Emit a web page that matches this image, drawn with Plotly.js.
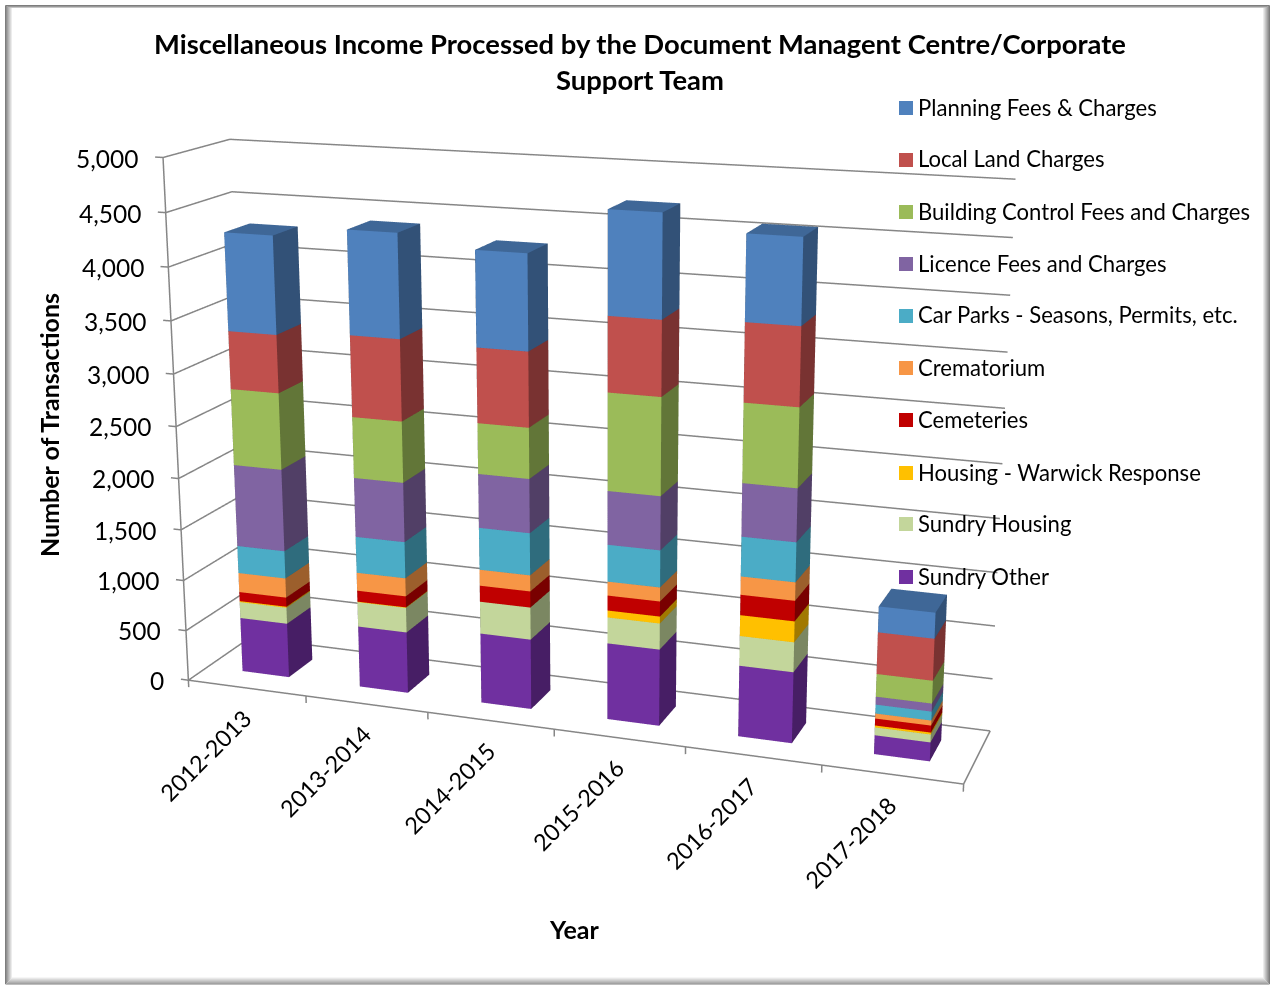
<!DOCTYPE html>
<html>
<head>
<meta charset="utf-8">
<script src="https://cdn.plot.ly/plotly-3.0.1.min.js"></script>
<style>html,body{margin:0;padding:0;background:#fff}#chart{width:1271px;height:985px}</style>
</head>
<body>
<div id="chart"></div>
<script>
// Financial years along the front of the floor
const categories = ['2012-2013','2013-2014','2014-2015','2015-2016','2016-2017','2017-2018'];

// Transactions per year, one array per income stream
const sundryOther    = [540, 600, 678, 732, 671, 177];
const sundryHousing  = [161, 242, 310, 248, 280,  74];
const housingWarwick = [ 10,   5,   0,  66, 195,  18];
const cemeteries     = [ 91, 108, 155, 142, 190,  65];
const crematorium    = [191, 177, 154, 132, 170,  47];
const carParks       = [270, 351, 401, 347, 366,  83];
const licenceFees    = [798, 570, 510, 501, 488,  74];
const buildingControl= [736, 581, 476, 902, 722, 211];
const localLand      = [553, 768, 698, 688, 709, 384];
const planningFees   = [926, 972, 883, 938, 767, 237];

// Stacking order, bottom to top
const seriesNames = ['Sundry Other','Sundry Housing','Housing - Warwick Response','Cemeteries','Crematorium',
  'Car Parks - Seasons, Permits, etc.','Licence Fees and Charges','Building Control Fees and Charges','Local Land Charges','Planning Fees & Charges'];
const seriesValues = [sundryOther,sundryHousing,housingWarwick,cemeteries,crematorium,carParks,licenceFees,buildingControl,localLand,planningFees];
const seriesColors = ['#7030A0','#C3D69B','#FFC000','#C00000','#F79646','#4BACC6','#8064A2','#9BBB59','#C0504D','#4F81BD'];

const valueTicks = [0,500,1000,1500,2000,2500,3000,3500,4000,4500,5000];

const W = 1271, H = 985;
const FONT = 'Lato, Carlito, Calibri, sans-serif';
const GRID = '#868686';
const barHalfWidth = 0.2, barDepthFront = 0.31, barDepthBack = 0.71;

function shade(hex, k){
  const n = parseInt(hex.slice(1),16);
  const c = [n>>16&255,n>>8&255,n&255].map(v=>Math.round(v*k));
  return `rgb(${c[0]},${c[1]},${c[2]})`;
}

// One closed box per year for a series, coloured face by face
function boxMesh(name, values, base, color){
  const xs=[],ys=[],zs=[],is=[],js=[],ks=[],fc=[];
  const front=color, side=shade(color,0.63), top=shade(color,0.8), hidden=shade(color,0.5);
  values.forEach((v,b)=>{
    const x0=b+0.5-barHalfWidth, x1=b+0.5+barHalfWidth, y0=barDepthFront, y1=barDepthBack;
    const z0=base[b], z1=base[b]+v, o=xs.length;
    [[x0,y0,z0],[x1,y0,z0],[x1,y1,z0],[x0,y1,z0],[x0,y0,z1],[x1,y0,z1],[x1,y1,z1],[x0,y1,z1]].forEach(p=>{xs.push(p[0]);ys.push(p[1]);zs.push(p[2]);});
    [[0,1,5,front],[0,5,4,front],[1,2,6,side],[1,6,5,side],[4,5,6,top],[4,6,7,top],
     [2,3,7,hidden],[2,7,6,hidden],[3,0,4,hidden],[3,4,7,hidden],[0,1,2,hidden],[0,2,3,hidden]].forEach(t=>{
      is.push(o+t[0]);js.push(o+t[1]);ks.push(o+t[2]);fc.push(t[3]);
    });
    base[b]=z1;
  });
  return {type:'mesh3d',name,x:xs,y:ys,z:zs,i:is,j:js,k:ks,facecolor:fc,flatshading:true,
    lighting:{ambient:1,diffuse:0,specular:0,fresnel:0,roughness:1},hoverinfo:'skip',showlegend:false};
}

const running = categories.map(()=>0);
const traces = seriesValues.map((vals,s)=>boxMesh(seriesNames[s],vals,running,seriesColors[s]));

// Wall gridlines, axis lines and tick marks
const n = categories.length, gx=[],gy=[],gz=[];
const seg = pts => { pts.forEach(p=>{gx.push(p[0]);gy.push(p[1]);gz.push(p[2]);}); gx.push(null);gy.push(null);gz.push(null); };
valueTicks.forEach(v=>{ seg([[0,0,v],[0,1,v],[n,1,v]]); seg([[0,0,v],[-0.065,0,v]]); });
seg([[0,0,0],[0,0,5000]]);
seg([[0,0,0],[n,0,0],[n,1,0]]);
for(let i=0;i<=n;i++) seg([[i,0,0],[i,0,-70]]);
traces.unshift({type:'scatter3d',mode:'lines',x:gx,y:gy,z:gz,line:{color:GRID,width:3},hoverinfo:'skip',showlegend:false,connectgaps:false});

// Scene box and view
const unit = [2/6, 0.3388, 1.344/5000];
const xr=[-0.3,6.02], yr=[-0.02,1.02], zr=[-120,5030];
const boxC=[(xr[0]+xr[1])/2*unit[0],(yr[0]+yr[1])/2*unit[1],(zr[0]+zr[1])/2*unit[2]];
const rad=Math.PI/180, baseAz=20*rad, az=19.3*rad, el=15*rad;
const look=[-Math.sin(az)*Math.cos(el),Math.cos(az)*Math.cos(el),-Math.sin(el)];
const eyeWorld=[2.925,-4.951,2.162];
const e0=eyeWorld.map((e,i)=>e-boxC[i]);
const turn=baseAz-az;
const eye=[e0[0]*Math.cos(turn)+e0[1]*Math.sin(turn),-e0[0]*Math.sin(turn)+e0[1]*Math.cos(turn),e0[2]];
const center=eye.map((e,i)=>e+5.67*look[i]);

const sceneAnn=[];
valueTicks.forEach(v=>sceneAnn.push({x:-0.065,y:0,z:v,text:v.toLocaleString('en-US'),showarrow:false,xanchor:'right',yanchor:'middle',xshift:-15,yshift:-1,
  font:{family:FONT,size:24.5,color:'#000'}}));
categories.forEach((c,i)=>sceneAnn.push({x:i+0.5,y:0,z:-80,text:c,showarrow:false,textangle:-45,xanchor:'right',yanchor:'top',xshift:13,yshift:-5,
  font:{family:FONT,size:23.3,color:'#000'}}));

const noAxis=r=>({range:r,autorange:false,visible:false,showgrid:false,zeroline:false,showline:false,showticklabels:false,showbackground:false,showspikes:false,ticks:''});

const shapes=[], annotations=[];
const px=x=>x/W, py=y=>1-y/H;

// Chart-area border with its soft inner shadow
for(let i=7;i>=0;i--){
  const g=Math.round(255-(7-i)*(255-125)/7);
  shapes.push({type:'rect',xref:'paper',yref:'paper',layer:'above',x0:px(5.5+i),x1:px(1269.5-i),y0:py(5.5+Math.min(i,3)*0.5),y1:py(984-i),
    line:{color:`rgb(${g},${g},${g})`,width:1},fillcolor:'rgba(0,0,0,0)'});
}

// Legend, top entry is the top of the stack
const legendY=[108,160,212,264,316,368,420,473,524,577];
legendY.forEach((y,i)=>{
  const s=seriesNames.length-1-i;
  shapes.push({type:'rect',xref:'paper',yref:'paper',layer:'above',x0:px(899),x1:px(913),y0:py(y-7),y1:py(y+7),fillcolor:seriesColors[s],line:{width:0}});
  annotations.push({xref:'paper',yref:'paper',x:px(916),y:py(y-1),text:seriesNames[s],showarrow:false,xanchor:'left',yanchor:'middle',font:{family:FONT,size:22.1,color:'#000'}});
});
annotations.push({xref:'paper',yref:'paper',x:px(574),y:py(929),text:'<b>Year</b>',showarrow:false,xanchor:'center',yanchor:'middle',font:{family:FONT,size:25,color:'#000'}});
annotations.push({xref:'paper',yref:'paper',x:px(49),y:py(425),text:'<b>Number of Transactions</b>',textangle:-90,showarrow:false,xanchor:'center',yanchor:'middle',font:{family:FONT,size:25,color:'#000'}});

const layout={
  width:W,height:H,margin:{l:0,r:0,t:0,b:0},paper_bgcolor:'#fff',showlegend:false,
  title:{text:'<b>Miscellaneous Income Processed by the Document Managent Centre/Corporate<br>Support Team</b>',x:640/W,xanchor:'center',y:1-54/H,yanchor:'top',
    font:{family:FONT,size:27.4,color:'#000'}},
  scene:{domain:{x:[0,1202/W],y:[1-870/H,1]},
    aspectmode:'manual',
    aspectratio:{x:(xr[1]-xr[0])*unit[0],y:(yr[1]-yr[0])*unit[1],z:(zr[1]-zr[0])*unit[2]},
    camera:{eye:{x:eye[0],y:eye[1],z:eye[2]},center:{x:center[0],y:center[1],z:center[2]},up:{x:0,y:0,z:1},projection:{type:'perspective'}},
    xaxis:noAxis(xr),yaxis:noAxis(yr),zaxis:noAxis(zr),annotations:sceneAnn,bgcolor:'rgba(0,0,0,0)'},
  shapes,annotations
};

const gd=document.getElementById('chart');
Plotly.newPlot(gd,traces,layout,{displayModeBar:false,responsive:false}).then(()=>{
  // Long-lens view: narrow the field of view of the scene
  const scene=gd._fullLayout.scene._scene;
  if(scene&&scene.glplot){
    scene.glplot.fovy=2*Math.atan(435/2345);
    scene.glplot.redraw();
  }
});
</script>
</body>
</html>
